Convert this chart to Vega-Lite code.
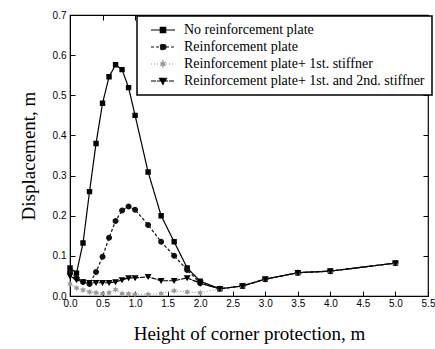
{
  "$schema": "https://vega.github.io/schema/vega-lite/v6.json",
  "width": 358,
  "height": 281,
  "autosize": "none",
  "padding": {"left": 70, "top": 15, "right": 7, "bottom": 53},
  "background": "white",
  "config": {
    "view": {"stroke": "black", "strokeWidth": 1.2},
    "font": "Liberation Sans",
    "legend": {
      "orient": "none", "legendX": 67, "legendY": 1, "title": null,
      "strokeColor": "black", "strokeWidth": 1.5, "fillColor": "white", "padding": 7,
      "symbolSize": 36, "symbolOffset": 12, "labelOffset": 14,
      "labelFont": "Liberation Serif", "labelFontSize": 14, "labelColor": "black",
      "rowPadding": 3, "symbolStrokeWidth": 1.2, "symbolStrokeColor": "black", "labelLimit": 400
    }
  },
  "datasets": {
    "pts": [
      {"s": "No reinforcement plate", "x": 0.0, "y": 0.07},
      {"s": "No reinforcement plate", "x": 0.1, "y": 0.057},
      {"s": "No reinforcement plate", "x": 0.2, "y": 0.132},
      {"s": "No reinforcement plate", "x": 0.3, "y": 0.26},
      {"s": "No reinforcement plate", "x": 0.4, "y": 0.38},
      {"s": "No reinforcement plate", "x": 0.5, "y": 0.48},
      {"s": "No reinforcement plate", "x": 0.6, "y": 0.546},
      {"s": "No reinforcement plate", "x": 0.7, "y": 0.576},
      {"s": "No reinforcement plate", "x": 0.8, "y": 0.564},
      {"s": "No reinforcement plate", "x": 0.9, "y": 0.519},
      {"s": "No reinforcement plate", "x": 1.0, "y": 0.45},
      {"s": "No reinforcement plate", "x": 1.2, "y": 0.309},
      {"s": "No reinforcement plate", "x": 1.4, "y": 0.2},
      {"s": "No reinforcement plate", "x": 1.6, "y": 0.135},
      {"s": "No reinforcement plate", "x": 1.8, "y": 0.07},
      {"s": "No reinforcement plate", "x": 2.0, "y": 0.037},
      {"s": "No reinforcement plate", "x": 2.3, "y": 0.018},
      {"s": "No reinforcement plate", "x": 2.65, "y": 0.025},
      {"s": "No reinforcement plate", "x": 3.0, "y": 0.042},
      {"s": "No reinforcement plate", "x": 3.5, "y": 0.058},
      {"s": "No reinforcement plate", "x": 4.0, "y": 0.062},
      {"s": "No reinforcement plate", "x": 5.0, "y": 0.082},

      {"s": "Reinforcement plate", "x": 0.0, "y": 0.06},
      {"s": "Reinforcement plate", "x": 0.1, "y": 0.045},
      {"s": "Reinforcement plate", "x": 0.2, "y": 0.035},
      {"s": "Reinforcement plate", "x": 0.3, "y": 0.03},
      {"s": "Reinforcement plate", "x": 0.4, "y": 0.06},
      {"s": "Reinforcement plate", "x": 0.5, "y": 0.098},
      {"s": "Reinforcement plate", "x": 0.6, "y": 0.145},
      {"s": "Reinforcement plate", "x": 0.7, "y": 0.187},
      {"s": "Reinforcement plate", "x": 0.8, "y": 0.213},
      {"s": "Reinforcement plate", "x": 0.9, "y": 0.223},
      {"s": "Reinforcement plate", "x": 1.0, "y": 0.215},
      {"s": "Reinforcement plate", "x": 1.2, "y": 0.177},
      {"s": "Reinforcement plate", "x": 1.4, "y": 0.135},
      {"s": "Reinforcement plate", "x": 1.6, "y": 0.1},
      {"s": "Reinforcement plate", "x": 1.8, "y": 0.065},
      {"s": "Reinforcement plate", "x": 2.0, "y": 0.032},
      {"s": "Reinforcement plate", "x": 2.3, "y": 0.018},
      {"s": "Reinforcement plate", "x": 2.65, "y": 0.025},
      {"s": "Reinforcement plate", "x": 3.0, "y": 0.042},
      {"s": "Reinforcement plate", "x": 3.5, "y": 0.058},
      {"s": "Reinforcement plate", "x": 4.0, "y": 0.062},
      {"s": "Reinforcement plate", "x": 5.0, "y": 0.082},

      {"s": "Reinforcement plate+ 1st. stiffner", "x": 0.0, "y": 0.03},
      {"s": "Reinforcement plate+ 1st. stiffner", "x": 0.1, "y": 0.02},
      {"s": "Reinforcement plate+ 1st. stiffner", "x": 0.2, "y": 0.015},
      {"s": "Reinforcement plate+ 1st. stiffner", "x": 0.3, "y": 0.01},
      {"s": "Reinforcement plate+ 1st. stiffner", "x": 0.4, "y": 0.008},
      {"s": "Reinforcement plate+ 1st. stiffner", "x": 0.5, "y": 0.006},
      {"s": "Reinforcement plate+ 1st. stiffner", "x": 0.6, "y": 0.008},
      {"s": "Reinforcement plate+ 1st. stiffner", "x": 0.7, "y": 0.016},
      {"s": "Reinforcement plate+ 1st. stiffner", "x": 0.8, "y": 0.006},
      {"s": "Reinforcement plate+ 1st. stiffner", "x": 0.9, "y": 0.005},
      {"s": "Reinforcement plate+ 1st. stiffner", "x": 1.0, "y": 0.004},
      {"s": "Reinforcement plate+ 1st. stiffner", "x": 1.2, "y": 0.004},
      {"s": "Reinforcement plate+ 1st. stiffner", "x": 1.4, "y": 0.006},
      {"s": "Reinforcement plate+ 1st. stiffner", "x": 1.6, "y": 0.013},
      {"s": "Reinforcement plate+ 1st. stiffner", "x": 1.8, "y": 0.01},
      {"s": "Reinforcement plate+ 1st. stiffner", "x": 2.0, "y": 0.008},
      {"s": "Reinforcement plate+ 1st. stiffner", "x": 2.3, "y": 0.018},
      {"s": "Reinforcement plate+ 1st. stiffner", "x": 2.65, "y": 0.025},
      {"s": "Reinforcement plate+ 1st. stiffner", "x": 3.0, "y": 0.042},
      {"s": "Reinforcement plate+ 1st. stiffner", "x": 3.5, "y": 0.058},
      {"s": "Reinforcement plate+ 1st. stiffner", "x": 4.0, "y": 0.062},
      {"s": "Reinforcement plate+ 1st. stiffner", "x": 5.0, "y": 0.082},

      {"s": "Reinforcement plate+ 1st. and 2nd. stiffner", "x": 0.0, "y": 0.05},
      {"s": "Reinforcement plate+ 1st. and 2nd. stiffner", "x": 0.1, "y": 0.04},
      {"s": "Reinforcement plate+ 1st. and 2nd. stiffner", "x": 0.2, "y": 0.035},
      {"s": "Reinforcement plate+ 1st. and 2nd. stiffner", "x": 0.3, "y": 0.033},
      {"s": "Reinforcement plate+ 1st. and 2nd. stiffner", "x": 0.4, "y": 0.033},
      {"s": "Reinforcement plate+ 1st. and 2nd. stiffner", "x": 0.5, "y": 0.033},
      {"s": "Reinforcement plate+ 1st. and 2nd. stiffner", "x": 0.6, "y": 0.033},
      {"s": "Reinforcement plate+ 1st. and 2nd. stiffner", "x": 0.7, "y": 0.035},
      {"s": "Reinforcement plate+ 1st. and 2nd. stiffner", "x": 0.8, "y": 0.04},
      {"s": "Reinforcement plate+ 1st. and 2nd. stiffner", "x": 0.9, "y": 0.045},
      {"s": "Reinforcement plate+ 1st. and 2nd. stiffner", "x": 1.0, "y": 0.045},
      {"s": "Reinforcement plate+ 1st. and 2nd. stiffner", "x": 1.2, "y": 0.048},
      {"s": "Reinforcement plate+ 1st. and 2nd. stiffner", "x": 1.4, "y": 0.038},
      {"s": "Reinforcement plate+ 1st. and 2nd. stiffner", "x": 1.6, "y": 0.038},
      {"s": "Reinforcement plate+ 1st. and 2nd. stiffner", "x": 1.8, "y": 0.045},
      {"s": "Reinforcement plate+ 1st. and 2nd. stiffner", "x": 2.0, "y": 0.032},
      {"s": "Reinforcement plate+ 1st. and 2nd. stiffner", "x": 2.3, "y": 0.018},
      {"s": "Reinforcement plate+ 1st. and 2nd. stiffner", "x": 2.65, "y": 0.025},
      {"s": "Reinforcement plate+ 1st. and 2nd. stiffner", "x": 3.0, "y": 0.042},
      {"s": "Reinforcement plate+ 1st. and 2nd. stiffner", "x": 3.5, "y": 0.058},
      {"s": "Reinforcement plate+ 1st. and 2nd. stiffner", "x": 4.0, "y": 0.062},
      {"s": "Reinforcement plate+ 1st. and 2nd. stiffner", "x": 5.0, "y": 0.082}
    ]
  },
  "data": {"name": "pts"},
  "layer": [
    {
      "mark": {"type": "line", "strokeWidth": 1.2},
      "encoding": {
        "x": {"field": "x", "type": "quantitative", "scale": {"domain": [0, 5.5], "nice": false, "zero": false},
          "axis": {"title": "Height of corner protection, m", "values": [0, 0.5, 1, 1.5, 2, 2.5, 3, 3.5, 4, 4.5, 5, 5.5], "format": ".1f", "tickSize": -5, "tickColor": "black", "domainColor": "black", "labelFont": "Liberation Sans", "labelFontSize": 10, "labelColor": "black", "labelPadding": 7, "titleFont": "Liberation Serif", "titleFontSize": 19, "titleFontWeight": "normal", "titleColor": "black", "titlePadding": 16, "grid": false, "labelFlush": false}},
        "y": {"field": "y", "type": "quantitative", "scale": {"domain": [0, 0.7], "nice": false},
          "axis": {"title": "Displacement, m", "values": [0, 0.1, 0.2, 0.3, 0.4, 0.5, 0.6, 0.7], "format": ".1f", "tickSize": -5, "tickColor": "black", "domainColor": "black", "labelFont": "Liberation Sans", "labelFontSize": 10, "labelColor": "black", "labelPadding": 9, "titleFont": "Liberation Serif", "titleFontSize": 19, "titleFontWeight": "normal", "titleColor": "black", "titlePadding": 14, "grid": false}},
        "color": {"field": "s", "type": "nominal",
          "scale": {"domain": ["No reinforcement plate", "Reinforcement plate", "Reinforcement plate+ 1st. stiffner", "Reinforcement plate+ 1st. and 2nd. stiffner"], "range": ["#000000", "#111111", "#999999", "#000000"]}},
        "strokeDash": {"field": "s", "type": "nominal",
          "scale": {"domain": ["No reinforcement plate", "Reinforcement plate", "Reinforcement plate+ 1st. stiffner", "Reinforcement plate+ 1st. and 2nd. stiffner"], "range": [[1, 0], [3, 2], [1, 2], [5, 1]]}}
      }
    },
    {
      "mark": {"type": "point", "filled": true, "opacity": 1, "strokeWidth": 0},
      "encoding": {
        "x": {"field": "x", "type": "quantitative", "axis": {"orient": "top", "labels": false, "title": null, "values": [0, 0.5, 1, 1.5, 2, 2.5, 3, 3.5, 4, 4.5, 5, 5.5], "tickSize": -5, "tickColor": "black", "domain": false, "grid": false}},
        "y": {"field": "y", "type": "quantitative", "axis": {"orient": "right", "labels": false, "title": null, "values": [0, 0.1, 0.2, 0.3, 0.4, 0.5, 0.6, 0.7], "tickSize": -5, "tickColor": "black", "domain": false, "grid": false}},
        "color": {"field": "s", "type": "nominal"},
        "size": {"value": 36},
        "shape": {"field": "s", "type": "nominal",
          "scale": {"domain": ["No reinforcement plate", "Reinforcement plate", "Reinforcement plate+ 1st. stiffner", "Reinforcement plate+ 1st. and 2nd. stiffner"],
            "range": [
              "M-4,0H4M-0.9,-0.9H0.9V0.9H-0.9Z",
              "M-4,0H4M1,0A1,1 0 1,1 -1,0A1,1 0 1,1 1,0Z",
              "M-4,0H4M0,-1.1L0.28,-0.48L0.95,-0.55L0.55,0L0.95,0.55L0.28,0.48L0,1.1L-0.28,0.48L-0.95,0.55L-0.55,0L-0.95,-0.55L-0.28,-0.48Z",
              "M-4,0H4M-1.15,-0.9L1.15,-0.9L0,1.1Z"
            ]}}
      }
    }
  ],
  "resolve": {"axis": {"x": "independent", "y": "independent"}}
}
